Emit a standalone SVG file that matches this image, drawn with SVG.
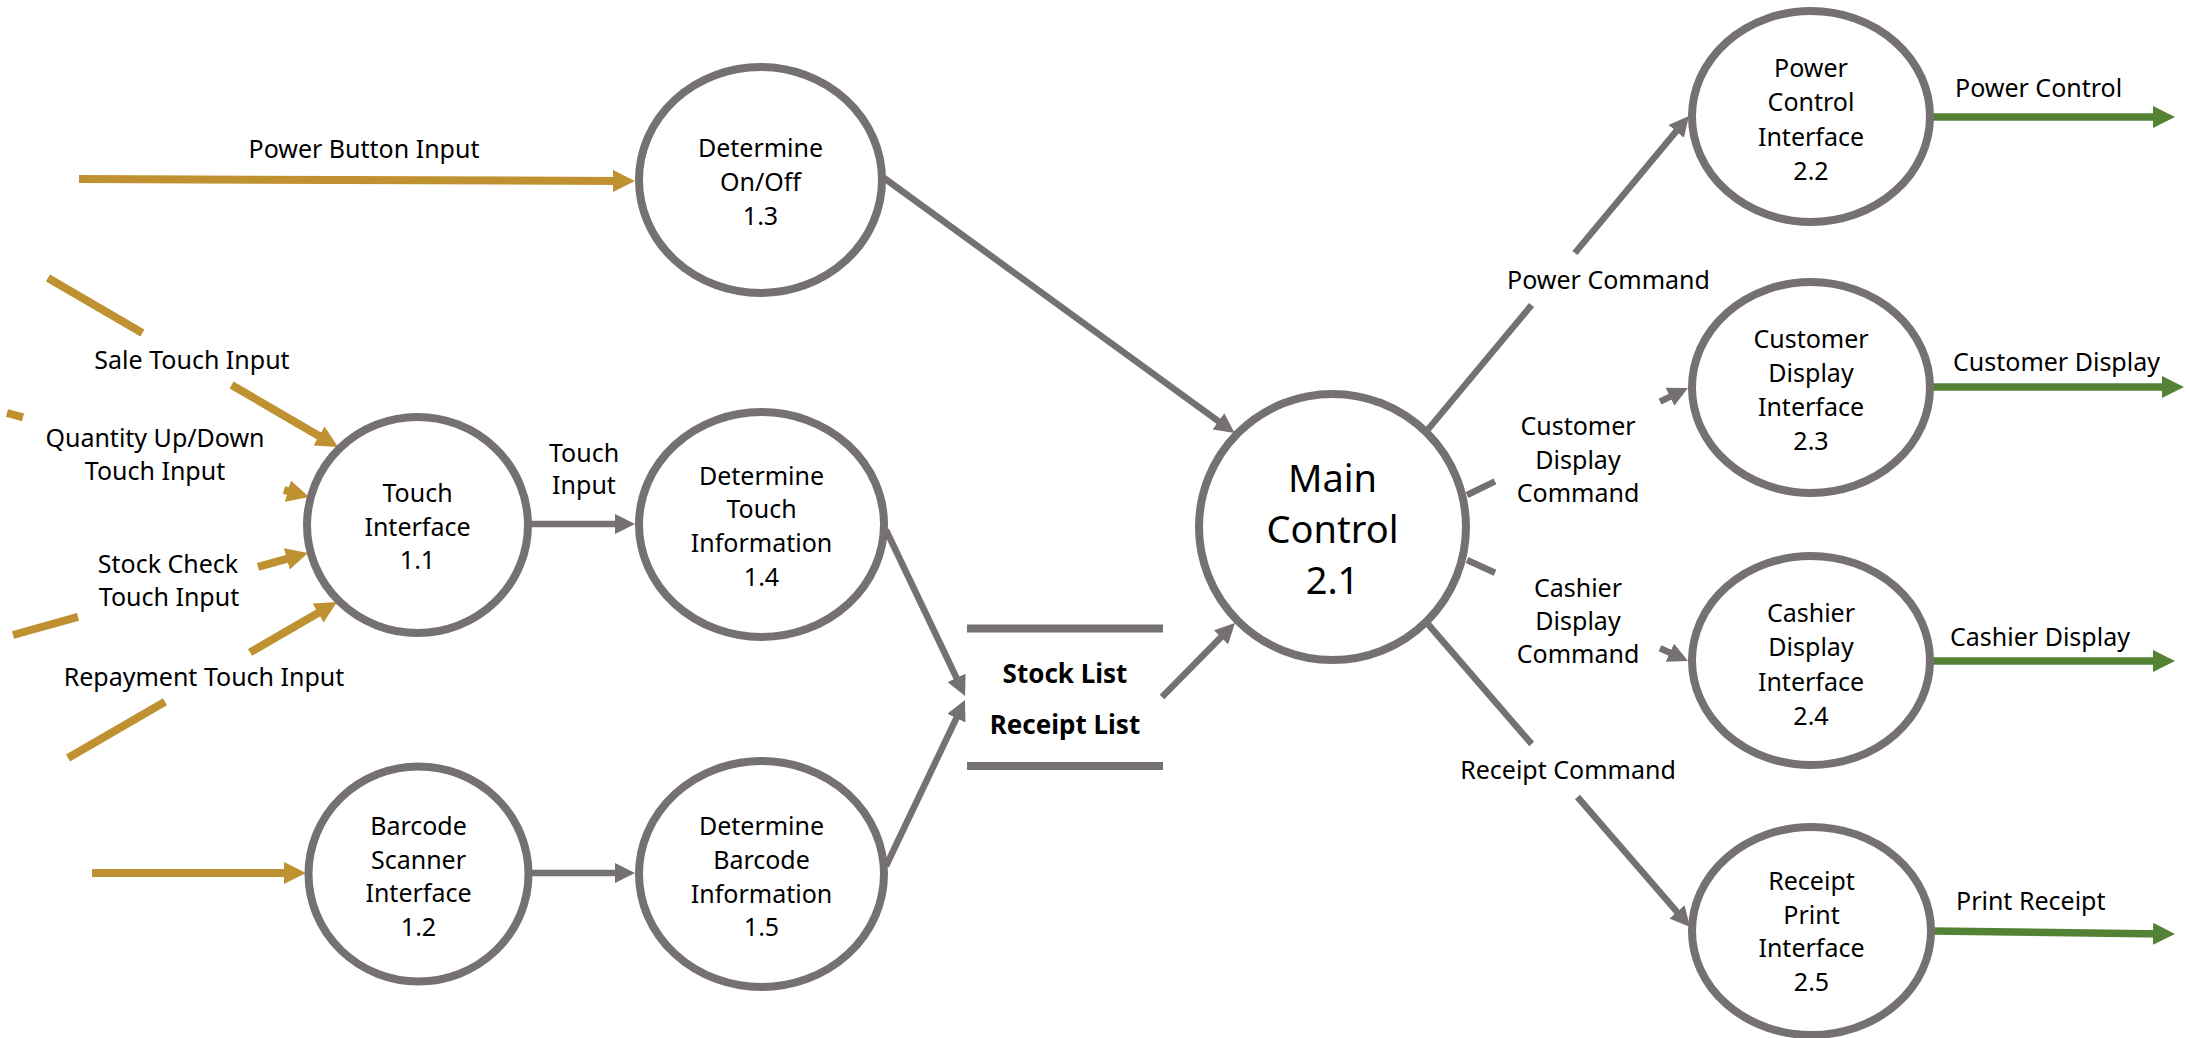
<svg xmlns="http://www.w3.org/2000/svg" width="2186" height="1038" viewBox="0 0 2186 1038">
<style>
.node ellipse{fill:#fff;stroke:#767171;stroke-width:8}
text{font-family:'Noto Sans','Liberation Sans',sans-serif;font-size:25px;fill:#000;text-anchor:middle}
.big{font-size:38px}
.bold{font-weight:bold;font-size:26px}
.st{text-anchor:start}
.g{fill:none;stroke:#767171;stroke-width:6.5}
.y{fill:none;stroke:#BF9130;stroke-width:8}
.v{fill:none;stroke:#548235;stroke-width:7.5}
.store{stroke:#767171;stroke-width:8}
</style>
<defs>
<marker id="ag" markerUnits="userSpaceOnUse" markerWidth="20" markerHeight="20" refX="10" refY="10" orient="auto" viewBox="0 0 20 20"><path d="M0,0 L20,10 L0,20 z" fill="#767171"/></marker>
<marker id="ay" markerUnits="userSpaceOnUse" markerWidth="22" markerHeight="22" refX="12" refY="11" orient="auto" viewBox="0 0 22 22"><path d="M0,0 L22,11 L0,22 z" fill="#BF9130"/></marker>
<marker id="av" markerUnits="userSpaceOnUse" markerWidth="22" markerHeight="22" refX="12" refY="11" orient="auto" viewBox="0 0 22 22"><path d="M0,0 L22,11 L0,22 z" fill="#548235"/></marker>
</defs>
<rect width="2186" height="1038" fill="#fff"/>

<g id="connectors">
<path class="y" d="M79,179 L625,181" marker-end="url(#ay)"/>
<path class="y" d="M48,278 L142.4,333 M231.6,385 L329.4,442" marker-end="url(#ay)"/>
<path class="y" d="M7,413 L23,417.4 M284,490 L299.4,494.3" marker-end="url(#ay)"/>
<path class="y" d="M13,635 L78,616.9 M258,566.9 L298.4,555.7" marker-end="url(#ay)"/>
<path class="y" d="M68,758 L165,701.8 M250,652.4 L328.4,607" marker-end="url(#ay)"/>
<path class="y" d="M92,873 L296,873" marker-end="url(#ay)"/>
<path class="g" d="M530,524 L625,524" marker-end="url(#ag)"/>
<path class="g" d="M530,873 L625,873" marker-end="url(#ag)"/>
<path class="g" d="M884,178 L1226.5,427.1" marker-end="url(#ag)"/>
<path class="g" d="M886,530 L960.8,686.9" marker-end="url(#ag)"/>
<path class="g" d="M886,866 L960.7,709.1" marker-end="url(#ag)"/>
<path class="g" d="M1162,697 L1228,630.1" marker-end="url(#ag)"/>
<path class="g" d="M1427.5,430 L1531.6,305 M1574.9,253 L1682.6,123.7" marker-end="url(#ag)"/>
<path class="g" d="M1467,495 L1495,481.4 M1660,401.6 L1679,392.4" marker-end="url(#ag)"/>
<path class="g" d="M1467,560 L1495,572.8 M1660,648.2 L1678.9,656.8" marker-end="url(#ag)"/>
<path class="g" d="M1427,623 L1531.7,744 M1577.5,797 L1683.5,919.4" marker-end="url(#ag)"/>
<path class="v" d="M1933,117 L2165,117" marker-end="url(#av)"/>
<path class="v" d="M1933,387 L2174,387" marker-end="url(#av)"/>
<path class="v" d="M1933,661 L2165,661" marker-end="url(#av)"/>
<path class="v" d="M1933,931 L2165,933.9" marker-end="url(#av)"/>
</g>

<g id="labels">
<text x="364" y="158">Power Button Input</text>
<text x="192" y="369">Sale Touch Input</text>
<text x="155" y="447">Quantity Up/Down</text>
<text x="155" y="480">Touch Input</text>
<text x="168" y="573">Stock Check</text>
<text x="169" y="606">Touch Input</text>
<text x="204" y="686">Repayment Touch Input</text>
<text x="584" y="462">Touch</text>
<text x="584" y="494">Input</text>
<text x="1608.5" y="289">Power Command</text>
<text x="1578" y="435">Customer</text>
<text x="1578" y="469">Display</text>
<text x="1578" y="502">Command</text>
<text x="1578" y="597">Cashier</text>
<text x="1578" y="630">Display</text>
<text x="1578" y="663">Command</text>
<text x="1568" y="779">Receipt Command</text>
<text class="st" x="1955" y="97">Power Control</text>
<text class="st" x="1953" y="371">Customer Display</text>
<text class="st" x="1950" y="646">Cashier Display</text>
<text class="st" x="1956" y="910">Print Receipt</text>
</g>

<g id="n13" class="node"><ellipse cx="760.5" cy="180" rx="121.5" ry="113"/>
<text x="760.5" y="157">Determine</text><text x="760.5" y="191">On/Off</text><text x="760.5" y="225">1.3</text></g>

<g id="n11" class="node"><ellipse cx="417.5" cy="525" rx="110.5" ry="108"/>
<text x="417.5" y="502">Touch</text><text x="417.5" y="536">Interface</text><text x="417.5" y="569">1.1</text></g>

<g id="n14" class="node"><ellipse cx="761.5" cy="524.5" rx="122.5" ry="112.5"/>
<text x="761.5" y="485">Determine</text><text x="761.5" y="518">Touch</text><text x="761.5" y="552">Information</text><text x="761.5" y="586">1.4</text></g>

<g id="n12" class="node"><ellipse cx="418.5" cy="874" rx="110" ry="107.5"/>
<text x="418.5" y="835">Barcode</text><text x="418.5" y="869">Scanner</text><text x="418.5" y="902">Interface</text><text x="418.5" y="936">1.2</text></g>

<g id="n15" class="node"><ellipse cx="761.5" cy="874" rx="122.5" ry="113"/>
<text x="761.5" y="835">Determine</text><text x="761.5" y="869">Barcode</text><text x="761.5" y="903">Information</text><text x="761.5" y="936">1.5</text></g>

<g id="store">
<line class="store" x1="967" y1="628.5" x2="1163" y2="628.5"/>
<line class="store" x1="967" y1="766" x2="1163" y2="766"/>
<text class="bold" x="1065" y="683">Stock List</text>
<text class="bold" x="1065" y="734">Receipt List</text>
</g>

<g id="n21" class="node"><ellipse cx="1332.5" cy="527" rx="133.5" ry="133"/>
<text class="big" x="1332.5" y="492">Main</text><text class="big" x="1332.5" y="543">Control</text><text class="big" x="1332.5" y="594">2.1</text></g>

<g id="n22" class="node"><ellipse cx="1811" cy="116.5" rx="119" ry="105.5"/>
<text x="1811" y="77">Power</text><text x="1811" y="111">Control</text><text x="1811" y="146">Interface</text><text x="1811" y="180">2.2</text></g>

<g id="n23" class="node"><ellipse cx="1811" cy="387.5" rx="119" ry="105.5"/>
<text x="1811" y="348">Customer</text><text x="1811" y="382">Display</text><text x="1811" y="416">Interface</text><text x="1811" y="450">2.3</text></g>

<g id="n24" class="node"><ellipse cx="1811" cy="660.5" rx="119" ry="104.5"/>
<text x="1811" y="622">Cashier</text><text x="1811" y="656">Display</text><text x="1811" y="691">Interface</text><text x="1811" y="725">2.4</text></g>

<g id="n25" class="node"><ellipse cx="1811.5" cy="931" rx="119.5" ry="104"/>
<text x="1811.5" y="890">Receipt</text><text x="1811.5" y="924">Print</text><text x="1811.5" y="957">Interface</text><text x="1811.5" y="991">2.5</text></g>
</svg>
